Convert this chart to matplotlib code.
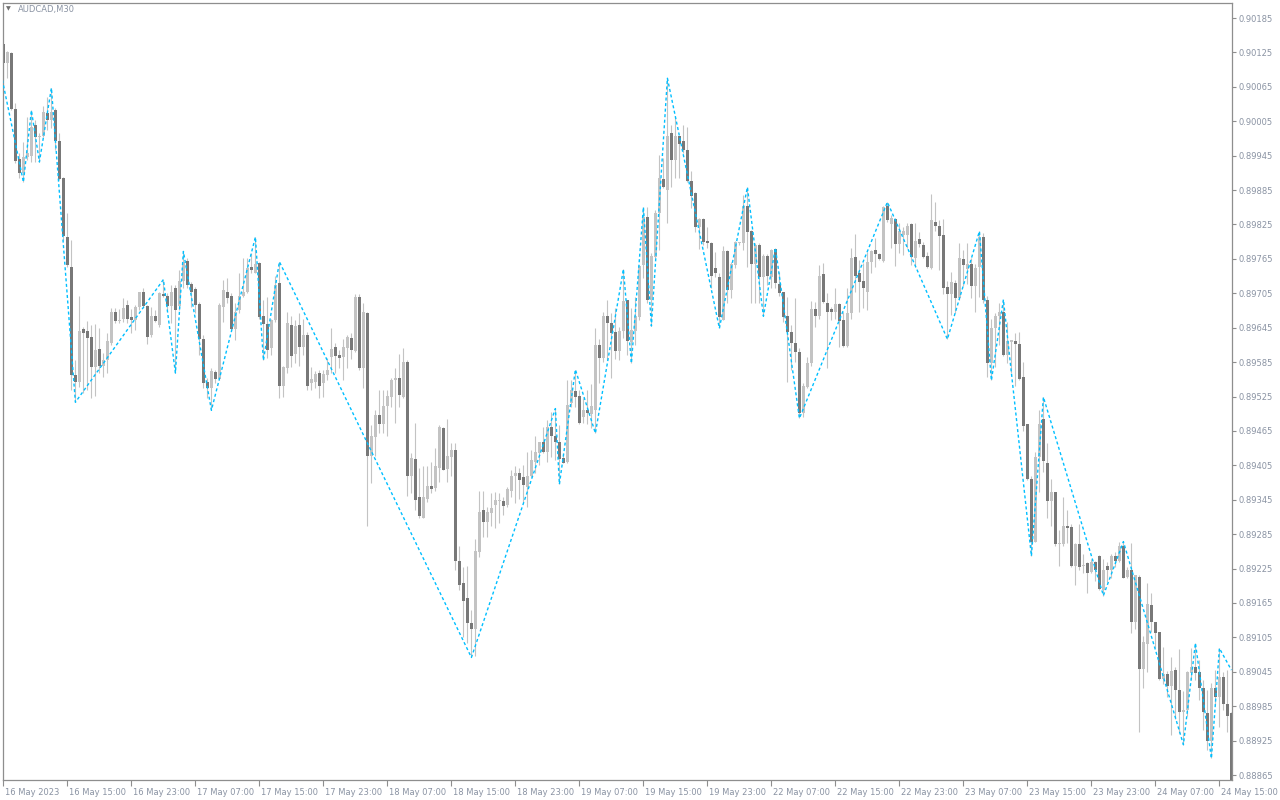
import matplotlib
matplotlib.use("Agg")
import matplotlib.pyplot as plt
from matplotlib.transforms import ScaledTranslation
import numpy as np

opens = [
0.90139,0.90106,0.90124,0.90026,0.89939,0.89915,0.89943,0.89945,0.89998,0.89977,
0.89980,0.90019,0.90007,0.90024,0.89970,0.89906,0.89803,0.89751,0.89562,0.89551,
0.89642,0.89639,0.89629,0.89576,0.89607,0.89578,0.89588,0.89618,0.89673,0.89656,
0.89661,0.89684,0.89663,0.89658,0.89681,0.89708,0.89683,0.89632,0.89666,0.89649,
0.89703,0.89701,0.89683,0.89714,0.89683,0.89726,0.89761,0.89721,0.89712,0.89686,
0.89625,0.89551,0.89539,0.89568,0.89555,0.89681,0.89708,0.89700,0.89642,0.89675,
0.89700,0.89708,0.89751,0.89740,0.89758,0.89666,0.89651,0.89609,0.89659,0.89723,
0.89544,0.89574,0.89649,0.89599,0.89649,0.89611,0.89632,0.89548,0.89550,0.89566,
0.89548,0.89562,0.89594,0.89611,0.89597,0.89594,0.89609,0.89627,0.89604,0.89698,
0.89574,0.89670,0.89422,0.89454,0.89492,0.89477,0.89508,0.89524,0.89553,0.89557,
0.89524,0.89586,0.89387,0.89416,0.89349,0.89313,0.89347,0.89369,0.89365,0.89401,
0.89470,0.89398,0.89419,0.89431,0.89239,0.89199,0.89173,0.89130,0.89119,0.89254,
0.89327,0.89306,0.89322,0.89335,0.89342,0.89342,0.89335,0.89361,0.89386,0.89391,
0.89384,0.89367,0.89386,0.89411,0.89426,0.89446,0.89429,0.89472,0.89457,0.89446,
0.89417,0.89411,0.89513,0.89534,0.89526,0.89489,0.89501,0.89494,0.89502,0.89614,
0.89592,0.89665,0.89653,0.89638,0.89604,0.89639,0.89693,0.89620,0.89639,0.89663,
0.89754,0.89838,0.89693,0.89768,0.89845,0.89904,0.89885,0.89984,0.89937,0.89979,
0.89970,0.89955,0.89900,0.89880,0.89820,0.89834,0.89796,0.89793,0.89749,0.89733,
0.89659,0.89778,0.89710,0.89754,0.89793,0.89793,0.89858,0.89813,0.89756,0.89789,
0.89733,0.89770,0.89733,0.89782,0.89721,0.89707,0.89665,0.89638,0.89618,0.89603,
0.89496,0.89541,0.89583,0.89677,0.89665,0.89738,0.89688,0.89677,0.89672,0.89686,
0.89658,0.89613,0.89670,0.89768,0.89740,0.89726,0.89707,0.89760,0.89780,0.89773,
0.89761,0.89857,0.89825,0.89834,0.89791,0.89806,0.89806,0.89825,0.89766,0.89799,
0.89789,0.89770,0.89749,0.89830,0.89823,0.89806,0.89716,0.89703,0.89723,0.89696,
0.89765,0.89747,0.89756,0.89717,0.89751,0.89803,0.89694,0.89583,0.89644,0.89665,
0.89673,0.89597,0.89620,0.89621,0.89616,0.89559,0.89477,0.89382,0.89272,0.89419,
0.89486,0.89409,0.89342,0.89358,0.89267,0.89267,0.89299,0.89297,0.89230,0.89267,
0.89229,0.89234,0.89219,0.89237,0.89247,0.89187,0.89229,0.89223,0.89247,0.89239,
0.89265,0.89211,0.89223,0.89132,0.89211,0.89049,0.89093,0.89161,0.89132,0.89114,
0.89032,0.89041,0.89020,0.89048,0.89014,0.88975,0.88978,0.89043,0.89053,0.89045,
0.89016,0.88973,0.88925,0.89016,0.89001,0.89036,0.88989,0.88973]

closes = [
0.90106,0.90126,0.90026,0.89935,0.89915,0.89943,0.89950,0.89995,0.89977,0.89980,
0.90021,0.90007,0.90022,0.89970,0.89904,0.89805,0.89754,0.89562,0.89550,0.89639,
0.89636,0.89627,0.89576,0.89606,0.89578,0.89588,0.89621,0.89673,0.89656,0.89659,
0.89679,0.89661,0.89658,0.89681,0.89707,0.89683,0.89629,0.89665,0.89656,0.89705,
0.89700,0.89683,0.89708,0.89675,0.89726,0.89760,0.89719,0.89708,0.89684,0.89625,
0.89548,0.89539,0.89569,0.89555,0.89684,0.89710,0.89696,0.89642,0.89673,0.89701,
0.89707,0.89749,0.89745,0.89756,0.89663,0.89651,0.89606,0.89659,0.89719,0.89544,
0.89576,0.89653,0.89596,0.89648,0.89611,0.89632,0.89544,0.89555,0.89564,0.89544,
0.89564,0.89571,0.89607,0.89596,0.89592,0.89611,0.89629,0.89606,0.89698,0.89574,
0.89673,0.89422,0.89456,0.89492,0.89477,0.89508,0.89526,0.89553,0.89557,0.89527,
0.89586,0.89386,0.89417,0.89345,0.89317,0.89349,0.89369,0.89363,0.89403,0.89472,
0.89396,0.89421,0.89431,0.89239,0.89197,0.89168,0.89130,0.89119,0.89255,0.89324,
0.89306,0.89324,0.89330,0.89344,0.89342,0.89334,0.89363,0.89387,0.89391,0.89380,
0.89370,0.89387,0.89414,0.89428,0.89446,0.89429,0.89472,0.89456,0.89446,0.89416,
0.89409,0.89511,0.89537,0.89524,0.89479,0.89502,0.89496,0.89509,0.89614,0.89592,
0.89666,0.89653,0.89636,0.89604,0.89639,0.89691,0.89621,0.89641,0.89665,0.89753,
0.89838,0.89693,0.89770,0.89845,0.89906,0.89890,0.89980,0.89937,0.89979,0.89965,
0.89955,0.89900,0.89875,0.89820,0.89834,0.89795,0.89793,0.89736,0.89740,0.89663,
0.89778,0.89710,0.89756,0.89795,0.89795,0.89857,0.89812,0.89756,0.89789,0.89733,
0.89770,0.89736,0.89780,0.89723,0.89705,0.89663,0.89638,0.89618,0.89603,0.89496,
0.89544,0.89583,0.89677,0.89665,0.89735,0.89690,0.89672,0.89672,0.89686,0.89656,
0.89613,0.89670,0.89766,0.89735,0.89725,0.89714,0.89760,0.89778,0.89773,0.89765,
0.89855,0.89832,0.89836,0.89791,0.89813,0.89813,0.89822,0.89768,0.89796,0.89791,
0.89768,0.89751,0.89832,0.89823,0.89805,0.89714,0.89703,0.89725,0.89696,0.89766,
0.89754,0.89756,0.89717,0.89749,0.89803,0.89693,0.89583,0.89644,0.89666,0.89673,
0.89597,0.89621,0.89623,0.89616,0.89555,0.89474,0.89382,0.89272,0.89419,0.89477,
0.89412,0.89342,0.89358,0.89267,0.89269,0.89299,0.89295,0.89230,0.89267,0.89227,
0.89230,0.89217,0.89237,0.89223,0.89190,0.89223,0.89223,0.89247,0.89239,0.89265,
0.89208,0.89223,0.89132,0.89213,0.89049,0.89097,0.89163,0.89132,0.89112,0.89032,
0.89041,0.89020,0.89046,0.89014,0.88975,0.88978,0.89045,0.89053,0.89043,0.89016,
0.88975,0.88925,0.89016,0.89001,0.89036,0.88989,0.88968,0.88856]

highs = [
0.90139,0.90127,0.90126,0.90037,0.89950,0.89969,0.90012,0.90024,0.90007,0.89984,
0.90032,0.90047,0.90063,0.90028,0.89984,0.89908,0.89845,0.89798,0.89588,0.89701,
0.89646,0.89656,0.89649,0.89651,0.89644,0.89601,0.89636,0.89679,0.89679,0.89677,
0.89696,0.89693,0.89677,0.89684,0.89708,0.89714,0.89684,0.89681,0.89675,0.89707,
0.89729,0.89705,0.89719,0.89719,0.89745,0.89778,0.89766,0.89725,0.89716,0.89690,
0.89632,0.89557,0.89574,0.89571,0.89688,0.89729,0.89731,0.89705,0.89688,0.89740,
0.89766,0.89766,0.89775,0.89803,0.89760,0.89693,0.89698,0.89661,0.89736,0.89760,
0.89579,0.89672,0.89666,0.89658,0.89670,0.89661,0.89638,0.89576,0.89569,0.89572,
0.89572,0.89592,0.89644,0.89618,0.89606,0.89625,0.89632,0.89636,0.89703,0.89703,
0.89688,0.89672,0.89475,0.89502,0.89536,0.89536,0.89536,0.89557,0.89574,0.89599,
0.89609,0.89588,0.89426,0.89479,0.89401,0.89403,0.89403,0.89411,0.89435,0.89475,
0.89472,0.89486,0.89444,0.89444,0.89265,0.89227,0.89229,0.89152,0.89276,0.89361,
0.89361,0.89332,0.89356,0.89358,0.89356,0.89349,0.89367,0.89396,0.89403,0.89401,
0.89405,0.89428,0.89431,0.89457,0.89446,0.89472,0.89484,0.89498,0.89504,0.89475,
0.89426,0.89553,0.89553,0.89572,0.89536,0.89522,0.89536,0.89546,0.89644,0.89625,
0.89672,0.89693,0.89670,0.89679,0.89646,0.89747,0.89693,0.89679,0.89698,0.89754,
0.89855,0.89855,0.89775,0.89850,0.89946,0.89941,0.90080,0.89998,0.90015,0.89980,
0.89998,0.89995,0.89918,0.89882,0.89836,0.89836,0.89820,0.89795,0.89777,0.89740,
0.89788,0.89780,0.89760,0.89796,0.89795,0.89876,0.89890,0.89815,0.89793,0.89793,
0.89773,0.89773,0.89782,0.89784,0.89742,0.89707,0.89698,0.89649,0.89696,0.89609,
0.89548,0.89594,0.89691,0.89690,0.89754,0.89758,0.89705,0.89681,0.89714,0.89688,
0.89672,0.89714,0.89784,0.89808,0.89763,0.89758,0.89777,0.89780,0.89801,0.89775,
0.89858,0.89864,0.89841,0.89836,0.89827,0.89820,0.89827,0.89827,0.89827,0.89812,
0.89795,0.89777,0.89878,0.89865,0.89832,0.89834,0.89726,0.89742,0.89728,0.89793,
0.89780,0.89793,0.89766,0.89756,0.89813,0.89810,0.89700,0.89661,0.89670,0.89688,
0.89694,0.89655,0.89623,0.89636,0.89638,0.89585,0.89477,0.89387,0.89428,0.89502,
0.89524,0.89444,0.89382,0.89358,0.89293,0.89349,0.89327,0.89302,0.89269,0.89302,
0.89250,0.89237,0.89241,0.89239,0.89248,0.89241,0.89237,0.89250,0.89254,0.89271,
0.89272,0.89227,0.89269,0.89213,0.89213,0.89108,0.89199,0.89182,0.89132,0.89115,
0.89088,0.89046,0.89070,0.89053,0.89084,0.89011,0.89046,0.89086,0.89095,0.89065,
0.89030,0.89013,0.89025,0.89048,0.89086,0.89045,0.89048,0.88975]

lows = [
0.90077,0.90080,0.90024,0.89932,0.89906,0.89899,0.89937,0.89934,0.89934,0.89934,
0.89977,0.89989,0.89993,0.89955,0.89902,0.89798,0.89751,0.89536,0.89515,0.89541,
0.89531,0.89536,0.89522,0.89526,0.89566,0.89559,0.89566,0.89614,0.89653,0.89653,
0.89655,0.89653,0.89636,0.89641,0.89675,0.89681,0.89616,0.89629,0.89655,0.89646,
0.89698,0.89675,0.89653,0.89566,0.89675,0.89714,0.89714,0.89681,0.89670,0.89597,
0.89539,0.89522,0.89501,0.89548,0.89553,0.89655,0.89688,0.89641,0.89623,0.89670,
0.89698,0.89705,0.89740,0.89740,0.89661,0.89588,0.89592,0.89597,0.89655,0.89522,
0.89524,0.89566,0.89576,0.89583,0.89579,0.89597,0.89536,0.89536,0.89539,0.89522,
0.89524,0.89553,0.89566,0.89566,0.89574,0.89553,0.89574,0.89590,0.89603,0.89571,
0.89539,0.89299,0.89374,0.89421,0.89461,0.89461,0.89457,0.89506,0.89479,0.89506,
0.89522,0.89352,0.89356,0.89327,0.89313,0.89313,0.89341,0.89356,0.89361,0.89376,
0.89396,0.89376,0.89387,0.89223,0.89187,0.89105,0.89095,0.89070,0.89073,0.89245,
0.89280,0.89280,0.89300,0.89295,0.89304,0.89318,0.89332,0.89349,0.89339,0.89347,
0.89341,0.89332,0.89384,0.89391,0.89405,0.89426,0.89411,0.89419,0.89414,0.89372,
0.89409,0.89409,0.89506,0.89506,0.89477,0.89479,0.89477,0.89470,0.89461,0.89548,
0.89585,0.89588,0.89557,0.89590,0.89588,0.89627,0.89597,0.89583,0.89614,0.89658,
0.89731,0.89688,0.89648,0.89766,0.89780,0.89888,0.89827,0.89890,0.89906,0.89906,
0.89950,0.89899,0.89853,0.89812,0.89782,0.89789,0.89784,0.89714,0.89733,0.89644,
0.89658,0.89688,0.89696,0.89749,0.89789,0.89780,0.89751,0.89688,0.89688,0.89688,
0.89665,0.89719,0.89714,0.89714,0.89701,0.89655,0.89550,0.89571,0.89585,0.89487,
0.89489,0.89539,0.89579,0.89646,0.89661,0.89688,0.89574,0.89658,0.89661,0.89611,
0.89611,0.89611,0.89661,0.89707,0.89672,0.89679,0.89675,0.89740,0.89751,0.89763,
0.89760,0.89829,0.89784,0.89753,0.89775,0.89771,0.89784,0.89754,0.89751,0.89786,
0.89766,0.89749,0.89747,0.89813,0.89745,0.89703,0.89625,0.89668,0.89670,0.89694,
0.89717,0.89721,0.89696,0.89673,0.89698,0.89688,0.89559,0.89553,0.89576,0.89614,
0.89596,0.89583,0.89566,0.89543,0.89553,0.89464,0.89379,0.89247,0.89271,0.89358,
0.89394,0.89313,0.89299,0.89264,0.89230,0.89264,0.89269,0.89227,0.89197,0.89223,
0.89217,0.89182,0.89217,0.89204,0.89188,0.89178,0.89201,0.89208,0.89227,0.89237,
0.89208,0.89208,0.89112,0.89119,0.88940,0.89016,0.89045,0.89114,0.89086,0.89030,
0.89023,0.89001,0.88934,0.88962,0.88938,0.88918,0.88968,0.89030,0.89030,0.88995,
0.88943,0.88908,0.88894,0.88987,0.88948,0.88978,0.88940,0.88856]

# ZigZag indicator vertices (bar index, price)
zz_bar = [-2, 5, 7, 9, 12, 18, 40, 43, 45, 52, 63, 65, 69, 117, 138, 139, 143, 148,
          155, 157, 160, 162, 166, 179, 186, 190, 193, 199, 221, 236, 244, 247, 250,
          257, 260, 275, 280, 295, 298, 302, 304, 307]
zz_price = [0.90136, 0.89899, 0.90024, 0.89934, 0.90063, 0.89515, 0.89729, 0.89566,
            0.89778, 0.89501, 0.89803, 0.89588, 0.89760, 0.89070, 0.89504, 0.89372,
            0.89572, 0.89461, 0.89747, 0.89583, 0.89855, 0.89648, 0.90080, 0.89644,
            0.89890, 0.89665, 0.89784, 0.89487, 0.89864, 0.89625, 0.89813, 0.89553,
            0.89694, 0.89247, 0.89524, 0.89178, 0.89272, 0.88918, 0.89095, 0.88894,
            0.89086, 0.89048]

time_tick_bars = [0, 16, 32, 48, 64, 80, 96, 112, 128, 144, 160, 176, 192, 208,
                  224, 240, 256, 272, 288, 304]
time_tick_labels = ["16 May 2023", "16 May 15:00", "16 May 23:00", "17 May 07:00",
                    "17 May 15:00", "17 May 23:00", "18 May 07:00", "18 May 15:00",
                    "18 May 23:00", "19 May 07:00", "19 May 15:00", "19 May 23:00",
                    "22 May 07:00", "22 May 15:00", "22 May 23:00", "23 May 07:00",
                    "23 May 15:00", "23 May 23:00", "24 May 07:00", "24 May 15:00"]
price_ticks = [0.90185, 0.90125, 0.90065, 0.90005, 0.89945, 0.89885, 0.89825,
               0.89765, 0.89705, 0.89645, 0.89585, 0.89525, 0.89465, 0.89405,
               0.89345, 0.89285, 0.89225, 0.89165, 0.89105, 0.89045, 0.88985,
               0.88925, 0.88865]

symbol_title = "AUDCAD,M30"

BULL = "#c3c3c3"
BEAR = "#787878"
WICK = "#c3c3c3"
AXC = "#8e8e8e"
TXT = "#8a93a3"

o = np.array(opens); c = np.array(closes); h = np.array(highs); l = np.array(lows)
x = np.arange(len(o))

fig = plt.figure(figsize=(12.8, 8), dpi=100)
fig.patch.set_facecolor("white")
ax = fig.add_axes([3/1280, 20/800, 1229/1280, 777/800])
ax.set_facecolor("white")

ax.vlines(x, l, h, colors=WICK, linewidth=0.8, zorder=1)
body_bottom = np.minimum(o, c)
body_h = np.maximum(np.abs(c - o), 0.000018)
cols = np.where(c >= o, BULL, BEAR)
ax.bar(x, body_h, bottom=body_bottom, width=0.72, color=cols, linewidth=0, zorder=2)

ax.plot(zz_bar, zz_price, color="#00bfff", linewidth=1.0,
        linestyle=(0, (2.2, 1.8)), zorder=3)

ax.set_xlim(-0.1, 307.15)
ax.set_ylim(0.888563, 0.902112)

for s in ax.spines.values():
    s.set_color(AXC)
    s.set_linewidth(0.9)

ax.yaxis.tick_right()
ax.set_yticks(price_ticks)
ax.set_yticklabels([f"{v:.5f}" for v in price_ticks])
ax.tick_params(axis="y", direction="out", length=3, width=0.8, color=AXC,
               labelsize=6, labelcolor=TXT, pad=2)

ax.set_xticks(time_tick_bars)
ax.set_xticklabels(time_tick_labels, ha="left")
ax.tick_params(axis="x", direction="out", length=4, width=0.8, color=AXC,
               labelsize=6, labelcolor=TXT, pad=1.5)
off = ScaledTranslation(1.5/72, 0, fig.dpi_scale_trans)
for lab in ax.get_xticklabels():
    lab.set_transform(lab.get_transform() + off)

fig.text(8/1280, 1 - 9/800, "\u25BC", fontsize=4.5, color="#707070",
         ha="center", va="center")
fig.text(18/1280, 1 - 9.5/800, symbol_title, fontsize=6, color=TXT,
         ha="left", va="center")

fig.savefig("out.png", dpi=100, facecolor="white")
